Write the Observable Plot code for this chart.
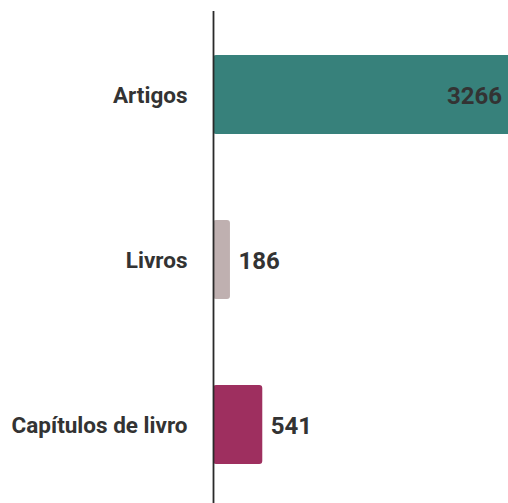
<!DOCTYPE html>
<html>
<head>
<meta charset="utf-8">
<script src="https://cdn.jsdelivr.net/npm/d3@7"></script>
<script src="https://cdn.jsdelivr.net/npm/@observablehq/plot@0.6"></script>
<style>
  html, body { margin: 0; padding: 0; background: #fff; }
  #chart svg { display: block; }
</style>
</head>
<body>
<div id="chart"></div>
<script>
const categories = ["Artigos", "Livros", "Capítulos de livro"];
const values = [3266, 186, 541];
const colors = ["#37817b", "#bfb0b0", "#9e2f5f"];
const insideLabel = [true, false, false];

const data = categories.map((c, i) => ({category: c, value: values[i], color: colors[i], inside: insideLabel[i]}));

const font = "Roboto, sans-serif";
const plot = Plot.plot({
  width: 508,
  height: 503,
  marginTop: 11,
  marginBottom: 0,
  marginLeft: 213,
  marginRight: 0,
  style: {fontFamily: font, background: "#fff", overflow: "hidden"},
  x: {domain: [0, 3266], range: [213, 510.5], axis: null},
  y: {domain: categories, range: [14.5, 505], paddingInner: 0.519, paddingOuter: 0.242, label: null, tickSize: 0, tickPadding: 26},
  marks: [
    Plot.barX(data, {x: "value", y: "category", fill: "color", rx: 3}),
    Plot.ruleX([0], {stroke: "#2a2a2a", strokeWidth: 1.8}),
    Plot.text(data.filter(d => d.inside), {x: "value", y: "category", text: d => String(d.value), textAnchor: "end", dx: -9, dy: 1, fill: "#333", fontSize: 24, fontWeight: "bold", fontFamily: font}),
    Plot.text(data.filter(d => !d.inside), {x: "value", y: "category", text: d => String(d.value), textAnchor: "start", dx: 8, dy: 1.5, fill: "#333", fontSize: 24, fontWeight: "bold", fontFamily: font}),
    Plot.axisY({tickSize: 0, tickPadding: 26, dy: 1, fontSize: 22.5, fontWeight: "bold", fill: "#333", label: null})
  ]
});
plot.querySelectorAll('[aria-label="y-axis tick label"] text').forEach(t => { t.style.fontSize = "22.5px"; t.style.fontWeight = "bold"; });
document.getElementById("chart").appendChild(plot);
</script>
</body>
</html>
